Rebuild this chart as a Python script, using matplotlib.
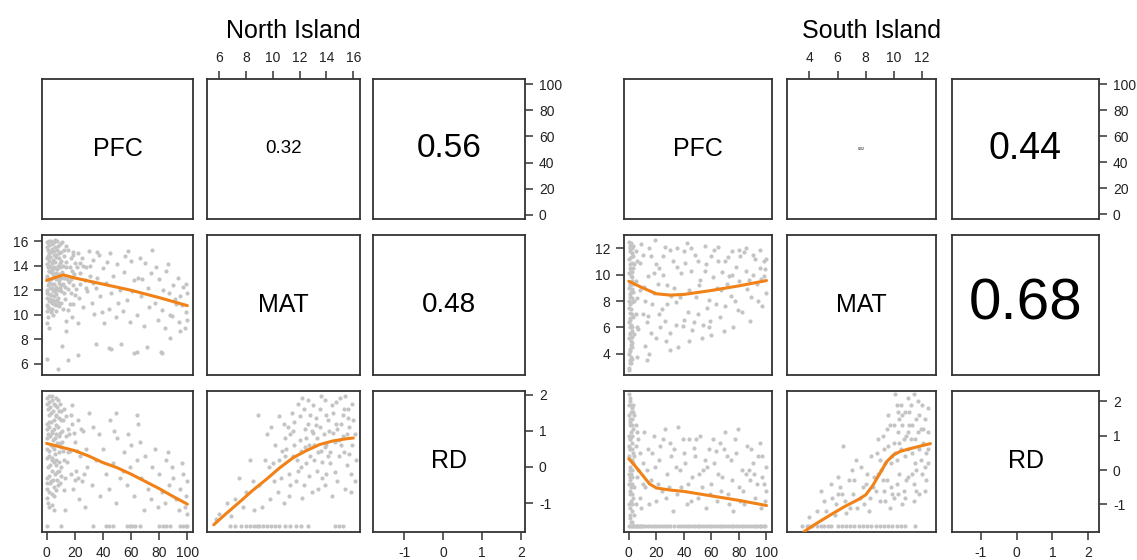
"""
Pairs plots (PFC, MAT, RD) for the North and South Island side by side:
scatter + loess in the lower panels, correlation in the upper ones.
"""

import matplotlib.pyplot as plt
import numpy as np

plt.rcParams['font.family'] = ['Liberation Sans', 'DejaVu Sans']
plt.rcParams['axes.unicode_minus'] = False

W, H = 1137, 560

# ---------------------------------------------------------------- North Island
ni_pfc_mat = [  # (PFC, MAT)
    (0, 15.9), (2, 15.7), (4, 15.8), (1, 15.3), (3, 15.1), (6, 15.5), (8, 15.6), (5, 14.9),
    (0, 14.6), (2, 14.4), (7, 14.7), (9, 15.0), (1, 13.9), (4, 14.2), (6, 13.8), (3, 13.5),
    (0, 13.2), (8, 14.0), (10, 14.4), (2, 12.8), (5, 13.1), (7, 12.9), (1, 12.4), (4, 12.2),
    (9, 12.6), (0, 11.8), (3, 11.6), (6, 11.9), (8, 11.4), (2, 11.1), (5, 10.9), (1, 10.6),
    (7, 10.8), (0, 10.3), (4, 10.5), (11, 13.5), (12, 14.8), (10, 11.9), (13, 12.3), (3, 16.0),
    (6, 16.1), (11, 15.9), (14, 15.6), (9, 13.3), (12, 13.0), (0, 12.0), (1, 14.8), (5, 12.0),
    (6, 14.3), (2, 13.6), (3, 12.9), (4, 13.6), (8, 13.1), (7, 11.7), (9, 11.0), (3, 10.2),
    (1, 9.8), (0, 9.3), (2, 8.9),
    (0.5, 15.5), (1.5, 15.0), (2.5, 14.7), (3.5, 15.4), (4.5, 14.5), (5.5, 15.2), (6.5, 14.9),
    (7.5, 15.3), (8.5, 14.6), (9.5, 14.2), (10.5, 15.1), (11.5, 14.0), (0.5, 14.1), (1.5, 13.6),
    (2.5, 14.0), (3.5, 13.8), (4.5, 13.3), (5.5, 13.9), (6.5, 13.4), (7.5, 13.7), (8.5, 12.8),
    (9.5, 13.9), (10.5, 13.0), (11.5, 12.5), (0.5, 13.0), (1.5, 12.6), (2.5, 12.2), (3.5, 12.5),
    (4.5, 11.9), (5.5, 12.5), (6.5, 12.3), (7.5, 12.1), (8.5, 12.0), (9.5, 12.2), (10.5, 12.4),
    (12.5, 11.8), (0.5, 11.4), (1.5, 11.7), (2.5, 11.3), (3.5, 11.0), (4.5, 11.2), (5.5, 11.5),
    (6.5, 11.1), (7.5, 11.2), (8.5, 10.7), (10.5, 11.0), (11.5, 10.5), (0.5, 10.8), (2.5, 10.5),
    (4.5, 10.0), (6.5, 10.3), (13.5, 14.3), (14.5, 12.9), (16.5, 13.9), (18.5, 14.9), (15.5, 12.1),
    (17.5, 12.9), (19.5, 13.3), (21.5, 13.9), (23.5, 14.2), (20.5, 11.6), (16.5, 10.9),
    (12.5, 15.3), (9.5, 15.8), (5.5, 15.9), (7.5, 16.0), (1.5, 16.0),
    (26, 14.0), (28, 12.2), (31, 14.0), (24, 12.5), (19, 12.4), (33, 12.6), (36, 15.1),
    (15, 15.3), (17, 14.6), (19, 15.1), (14, 13.9), (16, 12.7), (18, 13.6), (20, 14.2), (22, 15.0),
    (24, 13.4), (21, 12.1), (13, 11.3), (15, 10.4), (17, 11.8), (19, 10.9), (23, 11.4), (25, 14.6),
    (27, 12.8), (26, 10.6), (28, 13.9), (30, 15.2), (29, 11.9), (14, 9.5), (18, 9.8), (22, 9.3),
    (31, 13.2), (33, 14.5), (32, 11.0), (35, 12.2), (34, 10.1),
    (0, 6.4), (8, 5.6), (11, 7.5), (15, 6.3), (22, 6.7), (14, 8.7), (35, 7.6), (44, 7.3),
    (46, 7.2), (53, 7.6), (62, 6.9), (64, 7.0), (71, 7.4), (81, 7.0), (82, 6.9), (88, 8.1),
    (95, 8.7),
    (37, 14.9), (40, 13.8), (42, 12.6), (38, 11.5), (45, 15.0), (47, 13.2), (44, 10.5), (50, 14.1),
    (52, 12.0), (49, 9.8), (55, 13.5), (57, 11.2), (54, 10.3), (60, 14.4), (62, 12.8), (59, 9.4),
    (65, 13.0), (67, 11.5), (64, 10.0), (70, 14.2), (72, 12.2), (69, 9.1), (75, 15.3), (74, 13.4),
    (77, 11.0), (80, 12.9), (82, 10.4), (79, 9.6), (85, 13.6), (87, 11.8), (84, 8.9), (90, 12.4),
    (92, 10.9), (89, 9.9), (95, 11.5), (97, 12.3), (94, 9.4), (99, 10.2), (100, 11.8), (98, 8.9),
    (100, 9.6), (96, 10.8), (41, 9.3), (58, 15.2), (66, 14.6), (46, 11.8), (86, 14.1), (93, 13.0),
    (39, 10.2), (36, 13.0), (43, 14.3), (51, 11.0), (56, 14.8), (61, 11.9), (68, 12.9), (73, 10.6),
    (78, 13.9), (83, 12.0), (88, 10.0), (91, 11.3), (99, 12.5),
]
ni_pfc_rd = [  # (PFC, RD)
    (0, 1.9), (2, 1.8), (4, 1.95), (1, 1.6), (3, 1.5), (6, 1.7), (8, 1.85), (5, 1.3),
    (0, 1.2), (2, 1.1), (7, 1.4), (9, 1.55), (1, 0.9), (4, 1.0), (6, 0.8), (3, 0.6),
    (0, 0.5), (8, 1.1), (10, 1.3), (2, 0.3), (5, 0.5), (7, 0.2), (1, 0.0), (4, -0.1),
    (9, 0.4), (0, -0.3), (3, -0.4), (6, -0.2), (8, -0.5), (2, -0.7), (5, -0.8), (1, -1.0),
    (7, 0.9), (11, 0.7), (12, 1.6), (10, 0.0), (13, -0.3), (0, 0.8), (3, 1.25), (6, 0.35),
    (9, -0.1), (11, 1.0), (4, 0.2), (0, -0.6), (2, -1.1), (12, 0.2),
    (0.5, 1.75), (1.5, 1.45), (2.5, 1.65), (3.5, 1.85), (4.5, 1.55), (5.5, 1.75), (6.5, 1.45),
    (7.5, 1.65), (8.5, 1.35), (9.5, 1.75), (10.5, 1.55), (11.5, 1.3), (0.5, 1.05), (1.5, 1.25),
    (2.5, 0.85), (3.5, 0.95), (4.5, 0.75), (5.5, 1.05), (6.5, 1.15), (7.5, 0.65), (8.5, 0.85),
    (9.5, 0.95), (10.5, 0.55), (11.5, 0.45), (0.5, 0.25), (1.5, 0.45), (2.5, 0.05), (3.5, 0.25),
    (4.5, 0.55), (5.5, 0.15), (6.5, 0.05), (7.5, -0.15), (8.5, 0.15), (9.5, 0.65), (10.5, -0.25),
    (0.5, -0.45), (1.5, -0.25), (2.5, -0.45), (3.5, -0.75), (4.5, -0.35), (5.5, -0.55),
    (6.5, -0.65), (7.5, -0.35), (9.5, -0.45), (12.5, -0.65), (14.5, 0.15), (15.5, 1.05),
    (16.5, 0.45), (17.5, 1.45), (19.5, 0.95), (20.5, -0.35), (13.5, 0.85), (21.5, 0.45),
    (22.5, -0.3), (24.5, 1.05), (26.5, -0.2), (0.5, -0.85), (3.5, -1.05), (5.5, -1.2),
    (1.5, 1.95), (6.5, 1.9),
    (14, 1.4), (16, 0.9), (18, 1.2), (15, 0.4), (17, -0.2), (20, 0.7), (22, 1.3), (19, -0.6),
    (24, 0.3), (21, -0.1), (26, 1.0), (28, 0.5), (25, -0.4), (23, -0.9), (30, 1.5), (29, 0.0),
    (27, -1.1), (13, -1.2), (18, 1.7), (33, 1.1), (35, 0.2), (32, -0.5),
    (37, 0.9), (40, 0.5), (42, -0.2), (38, -0.8), (45, 1.3), (47, 0.1), (44, -0.6), (50, 0.8),
    (52, -0.3), (49, -1.0), (55, 0.4), (57, -0.5), (54, -0.1), (60, 0.6), (62, -0.8), (59, 0.0),
    (65, 1.2), (67, -0.3), (64, 0.2), (70, 0.3), (72, -0.6), (69, -1.2), (75, 0.0), (74, -0.9),
    (77, 0.5), (80, -0.2), (82, -0.7), (79, -1.1), (85, 0.2), (87, -0.5), (84, -1.0), (90, -0.3),
    (92, -0.9), (89, 0.0), (95, -0.6), (97, -0.2), (94, -1.2), (99, -0.8), (100, -0.4), (98, -1.1),
    (100, -1.3), (96, 0.1), (58, 0.9), (48, 1.0), (66, 0.7), (86, 0.4), (49, 1.5), (64, 1.45),
]
ni_mat_rd = [  # (MAT, RD)
    (11.0, 0.5), (11.5, 1.0), (12.0, 1.4), (12.5, 0.8), (13.0, 1.7), (13.5, 1.1), (14.0, 0.6),
    (14.5, 1.5), (15.0, 1.9), (15.5, 0.9), (16.0, 1.3), (11.2, -0.2), (11.8, 0.2), (12.3, -0.5),
    (12.8, 0.3), (13.3, -0.1), (13.8, 0.9), (14.3, 0.1), (14.8, -0.4), (15.3, 0.4), (15.8, -0.2),
    (12.2, 1.9), (13.6, 1.95), (14.1, 1.3), (14.6, 0.7), (15.1, 1.2), (15.6, 1.6), (12.6, 1.2),
    (13.1, 0.6), (11.6, 0.6), (12.9, -0.7), (13.9, -0.5), (14.9, 0.3), (15.9, 0.6), (11.4, 1.5),
    (12.1, 0.0), (13.4, 0.4), (14.4, -0.8), (15.4, -0.6), (16.1, 0.9), (10.8, 1.2), (11.9, 1.75),
    (12.4, 0.55), (13.2, 1.35), (14.2, 1.0), (14.7, 1.8), (15.2, 0.85), (13.7, 0.15), (12.7, -0.25),
    (11.3, 0.9), (14.0, -0.2), (15.7, 1.1), (16.2, 0.2), (13.0, 0.95), (12.0, 0.75),
    (11.1, 1.1), (11.7, -0.4), (12.3, 1.6), (12.9, 1.0), (13.5, 1.6), (14.1, 0.3), (14.7, 1.2),
    (15.3, 1.6), (15.9, 1.75), (11.5, 0.3), (12.1, 0.45), (12.7, 0.6), (13.3, 0.8), (13.9, 0.55),
    (14.5, 0.95), (15.1, 0.6), (15.7, 0.35), (11.3, -0.5), (11.9, -0.1), (12.5, 0.1), (13.1, 0.2),
    (13.7, -0.3), (14.3, 0.4), (14.9, 0.75), (15.5, 0.05), (16.1, -0.4), (12.4, 1.05), (13.2, 1.15),
    (14.0, 1.45), (14.8, 1.05), (15.6, 1.35), (11.6, 1.25), (12.8, 1.45), (13.6, 0.45), (14.4, 1.7),
    (15.2, 1.45), (13.9, 1.85), (15.4, 1.95), (12.6, 1.85), (10.5, 0.2), (10.9, 0.8), (9.7, 0.0),
    (10.1, -0.4), (10.7, 0.45), (11.2, -0.8), (12.2, -0.85), (13.4, -0.6), (14.6, -0.15),
    (15.8, -0.7),
    (9.0, -0.5), (9.4, 0.2), (9.8, -0.9), (10.2, 0.6), (10.6, -0.3), (9.6, 0.9), (10.4, -0.7),
    (10.0, 0.1), (10.8, -1.0), (9.2, -1.1), (10.9, 0.3), (9.9, 1.1), (10.5, 1.4),
    (6.0, -1.3), (6.6, -1.0), (7.2, -0.9), (7.5, -0.3), (8.0, -0.7), (8.3, 0.2), (8.6, -1.2),
    (8.9, 1.45), (7.8, -1.1), (8.5, -0.4), (6.9, -1.35), (5.8, -1.45),
]
ni_rd_floor = -1.63
ni_floor_pfc = [0, 10, 33, 42, 44, 47, 57, 59, 61, 63, 66, 80, 83, 85, 88, 95, 97, 99, 100]
ni_floor_mat = [6.8, 7.2, 7.6, 8.0, 8.3, 8.6, 8.8, 9.0, 9.3, 9.6, 9.9, 10.2, 10.5, 10.9,
                11.3, 11.7, 12.1, 12.6, 14.6, 14.9, 15.2]

ni_loess_pfc_mat = ([0, 5, 12, 20, 40, 60, 80, 100],
                    [12.8, 13.0, 13.25, 13.0, 12.5, 12.0, 11.4, 10.75])
ni_loess_pfc_rd = ([0, 10, 20, 30, 40, 50, 60, 70, 80, 90, 100],
                   [0.65, 0.55, 0.45, 0.3, 0.12, -0.02, -0.2, -0.4, -0.6, -0.82, -1.03])
ni_loess_mat_rd = ([5.6, 6.5, 7.5, 8.5, 9.5, 10.5, 11.5, 12.5, 13.5, 14.5, 15.5, 16.0],
                   [-1.6, -1.3, -0.98, -0.65, -0.35, -0.03, 0.25, 0.45, 0.62, 0.72, 0.78, 0.8])

ni_lims = {"PFC": (-3.3, 104), "MAT": (5.1, 16.5), "RD": (-1.8, 2.1)}
ni_ticks = {"PFC": [0, 20, 40, 60, 80, 100], "MAT": [6, 8, 10, 12, 14, 16], "RD": [-1, 0, 1, 2]}
ni_cor = ["0.32", "0.56", "0.48"]      # MAT-PFC, RD-PFC, RD-MAT
ni_cor_size = [13.5, 24, 20]

# ---------------------------------------------------------------- South Island
si_pfc_mat = [  # (PFC, MAT)
    (0, 12.5), (1, 12.0), (2, 11.6), (0, 11.2), (1, 10.8), (3, 10.5), (0, 10.1), (2, 9.8),
    (1, 9.4), (0, 9.0), (3, 8.7), (1, 8.3), (2, 7.9), (0, 7.5), (1, 7.1), (3, 6.8),
    (0, 6.4), (2, 6.0), (1, 5.6), (0, 5.2), (2, 4.8), (1, 4.4), (0, 4.0), (2, 3.6),
    (1, 3.3), (0, 2.9), (3, 12.2), (2, 10.2), (0, 8.0), (3, 9.3), (1, 6.6), (2, 5.3), (3, 11.4),
    (0.5, 12.2), (1.5, 11.3), (2.5, 10.9), (0.5, 10.5), (1.5, 9.9), (2.5, 9.5), (0.5, 9.2),
    (1.5, 8.7), (2.5, 8.2), (0.5, 7.8), (1.5, 7.4), (2.5, 7.0), (0.5, 6.7), (1.5, 6.2), (2.5, 5.7),
    (0.5, 5.5), (1.5, 5.0), (2.5, 4.5), (0.5, 4.2), (1.5, 3.8), (0.5, 3.5), (0.5, 11.8),
    (1.5, 12.4), (2.5, 12.0), (0.5, 8.5), (1.5, 10.3), (2.5, 8.9), (0.5, 6.0), (1.5, 4.7),
    (4, 10.8), (4, 8.0), (4, 5.5), (5, 9.5), (5, 7.0), (6, 11.0), (6, 6.0),
    (5, 11.8), (8, 10.9), (6, 8.2), (10, 7.0), (7, 5.9), (12, 4.6), (9, 12.3), (14, 9.9),
    (16, 11.4), (13, 6.4), (18, 8.6), (20, 5.2), (15, 4.0), (22, 10.5), (24, 7.4), (26, 12.1),
    (23, 6.0), (28, 9.2), (30, 5.6), (32, 11.0), (34, 7.9), (36, 4.5), (38, 10.1), (40, 6.6),
    (42, 12.4), (44, 8.8), (46, 5.8), (48, 11.5), (50, 7.0), (52, 9.6), (54, 6.2), (56, 10.8),
    (58, 8.1), (60, 5.4), (62, 11.9), (64, 9.0), (66, 6.8), (68, 10.2), (70, 7.6), (72, 11.3),
    (74, 8.4), (76, 6.0), (78, 10.6), (80, 9.5), (82, 7.2), (84, 11.7), (86, 8.9), (88, 6.5),
    (90, 10.0), (92, 11.2), (94, 8.0), (96, 9.7), (98, 11.0), (100, 8.6), (99, 10.4), (97, 7.6),
    (11, 9.1), (17, 7.8), (25, 10.0), (33, 9.0), (41, 10.9), (49, 8.3), (57, 7.5), (65, 11.0),
    (73, 9.9), (81, 11.4), (89, 8.3), (93, 9.3), (27, 5.0), (19, 12.6), (35, 12.0), (45, 10.3),
    (55, 12.2), (63, 7.8), (77, 8.0), (85, 10.3), (69, 5.7), (53, 5.2), (39, 6.1), (31, 8.4),
    (21, 9.3), (47, 6.4), (61, 9.8), (75, 11.8),
    (10, 11.5), (15, 12.0), (20, 10.8), (25, 11.4), (30, 11.9), (35, 10.6), (40, 11.8),
    (45, 12.0), (50, 11.0), (55, 10.3), (60, 11.4), (65, 12.1), (70, 11.0), (75, 10.0),
    (80, 11.9), (85, 12.0), (90, 11.5), (95, 11.9), (100, 11.2), (12, 8.0), (22, 7.0), (28, 7.8),
    (37, 8.3), (43, 7.2), (51, 9.2), (59, 6.5), (67, 8.8), (71, 9.3), (79, 7.3), (87, 9.6),
    (95, 10.5), (98, 9.9), (16, 5.6), (26, 6.5), (44, 5.0), (58, 6.0), (34, 6.2), (18, 10.1),
    (8, 8.8), (14, 6.9),
    (0, 2.8), (1.5, 3.3), (6, 3.8), (13.5, 3.5), (30, 4.3),
]
si_pfc_rd = [  # (PFC, RD)
    (0, 2.2), (1, 2.0), (2, 1.8), (0, 1.6), (1, 1.4), (3, 1.2), (0, 1.0), (2, 0.8),
    (1, 0.6), (0, 0.4), (3, 0.2), (1, 0.0), (2, -0.2), (0, -0.4), (1, -0.6), (3, -0.8),
    (0, -1.0), (2, -1.2), (1, -1.4), (0, 1.9), (2, 1.5), (1, 0.9), (3, 0.5), (0, -0.1),
    (2, -0.7), (1, -1.1), (3, 1.7), (0, 0.7), (1, -0.3), (2, 0.3),
    (0.5, 2.1), (1.5, 1.7), (2.5, 1.3), (0.5, 1.3), (1.5, 1.1), (2.5, 1.0), (0.5, 0.9),
    (1.5, 0.3), (2.5, 0.6), (0.5, 0.1), (1.5, -0.1), (2.5, -0.4), (0.5, -0.2), (1.5, -0.5),
    (2.5, -1.0), (0.5, -0.7), (1.5, -0.9), (0.5, -1.3), (2.5, -1.5), (1.5, 1.9), (0.5, 1.5),
    (1.5, -1.5), (0.5, 0.6), (2.5, 0.0), (4, 1.6), (4, -0.5), (5, 0.7), (6, 1.1), (5, -1.0),
    (7, 0.0), (3.5, -1.3), (3, 1.9),
    (5, 1.3), (7, 0.9), (4, 0.4), (6, -0.2), (8, -0.8), (10, 0.2), (9, -1.1), (11, 1.1), (12, -0.5),
    (14, 0.6), (16, -0.3), (18, 1.0), (20, -0.9), (22, 0.3), (24, -0.6), (26, 1.2), (28, -0.1),
    (30, 0.8), (32, -1.2), (34, 0.1), (36, 1.25), (38, -0.5), (40, 0.5), (42, -1.0), (44, 0.9),
    (46, -0.2), (48, 0.4), (50, -0.8), (52, 1.0), (54, 0.0), (56, -1.1), (58, 0.6), (60, -0.4),
    (62, 0.2), (64, -0.9), (66, 0.8), (68, -0.2), (70, 1.1), (72, -0.7), (74, 0.3), (76, -1.2),
    (78, 0.5), (80, -0.5), (82, 0.0), (84, -1.0), (86, 0.7), (88, -0.3), (90, 0.2), (92, -0.8),
    (94, 0.4), (96, -1.1), (98, -0.4), (100, 0.1), (99, -0.9), (15, -1.0), (23, 0.7), (31, 0.4),
    (39, 0.9), (47, 0.65), (55, 0.3), (63, 0.55), (71, 0.4), (79, 1.2), (87, 0.0), (95, 0.8),
    (19, 0.1), (27, -0.8), (35, -0.7), (43, -0.4), (51, -0.1), (59, -0.7), (67, -0.6), (75, -0.3),
    (83, -0.6), (91, -0.1), (97, -0.2),
    (13, 0.0), (17, 0.5), (21, -0.4), (25, 0.9), (29, -0.5), (33, 0.6), (37, 0.0), (41, 0.2),
    (45, -0.9), (49, 0.9), (53, -0.5), (57, 0.1), (61, 0.9), (65, -0.1), (69, 0.6), (73, -1.0),
    (77, 0.9), (81, -0.9), (85, -0.1), (89, 0.6), (93, -0.4), (97, 0.4), (100, -0.6), (10, -0.4),
    (8, 0.5),
]
si_mat_rd = [  # (MAT, RD)
    (5.2, -1.2), (5.6, -0.8), (5.9, -1.0), (6.2, -0.5), (6.5, -0.9), (6.8, -0.3), (7.1, -0.7),
    (7.4, -1.1), (7.7, 0.1), (8.0, -0.4), (8.3, -0.8), (6.0, -0.2), (6.6, -1.25), (7.3, 0.3),
    (7.9, -1.0), (8.4, 0.4), (5.5, -0.4), (4.5, -1.2), (4.0, -1.35), (6.4, 0.7),
    (5.0, -0.9), (5.8, -1.3), (6.3, -0.7), (6.9, -1.1), (7.2, -0.3), (7.6, -0.8), (8.1, -0.1),
    (8.2, -1.2), (7.0, 0.0), (6.0, -0.7), (4.8, -0.6), (7.8, -0.5),
    (8.6, -0.2), (8.8, 0.5), (9.0, -0.9), (9.2, 1.0), (9.4, 0.2), (9.6, 1.6), (9.8, -0.5),
    (10.0, 0.8), (10.2, 1.9), (10.4, -0.1), (10.6, 1.3), (10.8, 0.4), (11.0, 2.1), (11.2, 0.9),
    (11.4, -0.4), (11.6, 1.5), (11.8, 0.6), (12.0, 1.9), (12.2, 0.1), (12.4, 1.1), (9.1, 0.0),
    (9.5, -0.3), (9.9, 0.4), (10.3, 1.1), (10.7, -0.6), (11.1, 1.7), (11.5, 0.2), (11.9, 1.2),
    (12.3, -0.3), (10.1, 2.2), (10.5, 0.6), (10.9, 1.0), (11.3, 1.3), (11.7, 2.0), (12.1, 0.8),
    (9.7, -1.1), (10.6, -1.0), (11.4, -0.9), (12.4, 0.6), (9.3, -0.6), (10.8, 1.7), (11.0, -0.2),
    (9.6, 0.7), (10.2, -0.4), (11.6, 0.0), (12.2, 1.5), (8.9, 0.9), (10.4, 1.5), (11.8, -0.7),
    (10.0, -0.8),
    (8.7, -0.6), (9.0, 0.3), (9.3, 0.6), (9.5, 1.2), (9.8, 0.2), (10.0, 1.3), (10.2, 0.3),
    (10.3, -0.7), (10.5, 1.9), (10.7, 0.9), (10.9, -0.3), (11.0, 0.6), (11.2, 1.9), (11.3, -0.1),
    (11.5, 0.9), (11.6, -0.6), (11.8, 1.6), (11.9, 0.3), (12.0, -0.1), (12.1, 1.2), (12.3, 0.5),
    (12.4, 1.8), (10.6, 1.6), (10.4, 0.8), (11.1, 1.3), (11.4, 2.2), (11.7, 1.1), (9.9, -0.7),
    (10.8, -0.8), (9.4, -0.9), (12.2, -0.6), (11.3, 0.5), (10.1, 0.5), (9.2, -0.3), (8.9, -0.1),
    (8.5, -0.5), (12.4, 0.2), (11.0, 1.1), (10.3, 1.7), (9.7, 1.3),
]
si_rd_floor = -1.63
si_floor_pfc = [0, 1, 2, 3, 4, 5, 6, 7, 8, 9, 10, 12, 14, 16, 18, 20, 22, 24, 26, 28, 30, 33,
                36, 38, 40, 42, 44, 46, 48, 50, 52, 54, 56, 58, 60, 62, 64, 66, 68, 70, 72,
                74, 76, 78, 80, 82, 84, 86, 88, 90, 92, 93, 95, 96, 98, 99]
si_floor_mat = [3.5, 3.8, 4.0, 4.2, 4.5, 4.8, 5.0, 5.3, 5.5, 6.0, 6.3, 6.6, 6.9, 7.2, 7.5,
                7.8, 8.1, 8.4, 8.7, 9.0, 9.3, 9.6, 9.9, 10.2, 10.5, 10.8, 11.5]

si_loess_pfc_mat = ([0, 10, 20, 30, 40, 60, 80, 100],
                    [9.5, 9.0, 8.55, 8.45, 8.5, 8.8, 9.15, 9.55])
si_loess_pfc_rd = ([0, 5, 10, 15, 20, 30, 40, 60, 80, 100],
                   [0.33, 0.1, -0.15, -0.4, -0.52, -0.58, -0.62, -0.75, -0.88, -1.03])
si_loess_mat_rd = ([3.6, 4.5, 5.5, 6.5, 7.5, 8.0, 8.5, 9.0, 9.5, 10.0, 10.5, 11.5, 12.6],
                   [-1.79, -1.55, -1.3, -1.06, -0.85, -0.72, -0.45, -0.1, 0.25, 0.45, 0.55,
                    0.66, 0.77])

si_lims = {"PFC": (-3.5, 104), "MAT": (2.4, 13.0), "RD": (-1.8, 2.3)}
si_ticks = {"PFC": [0, 20, 40, 60, 80, 100], "MAT": [4, 6, 8, 10, 12], "RD": [-1, 0, 1, 2]}
si_cor = ["0.02", "0.44", "0.68"]
si_cor_size = [2.6, 27, 42]

VARS = ["PFC", "MAT", "RD"]
ROWS_PX = [(79, 219), (235, 375), (391, 532)]
NI_COLS_PX = [(42, 193), (207, 360), (373, 525)]
SI_COLS_PX = [(624, 772), (787, 936), (952, 1099)]

POINT = "#c4c4c4"
LOESS = "#f08218"
FRAME = "#333333"


def make_ax(fig, xpx, ypx):
    x0, x1 = xpx
    y0, y1 = ypx
    ax = fig.add_axes([x0 / W, 1 - y1 / H, (x1 - x0) / W, (y1 - y0) / H])
    for s in ax.spines.values():
        s.set_linewidth(1.3)
        s.set_color(FRAME)
    ax.set_xticks([])
    ax.set_yticks([])
    ax.tick_params(length=6, width=1.1, color=FRAME, labelsize=10,
                   labelcolor="#222222", pad=4)
    return ax


def draw_island(fig, cols_px, title, lims, ticks, pts, floors, rd_floor, loess,
                cor, cor_size):
    axes = {}
    for i, ypx in enumerate(ROWS_PX):
        for j, xpx in enumerate(cols_px):
            ax = make_ax(fig, xpx, ypx)
            ax.set_xlim(lims[VARS[j]])
            ax.set_ylim(lims[VARS[i]])
            axes[i, j] = ax

    # diagonal labels
    for k, v in enumerate(VARS):
        axes[k, k].text(0.5, 0.5, v, transform=axes[k, k].transAxes,
                        ha="center", va="center", fontsize=18)

    # lower panels: scatter + loess
    pairs = [(1, 0), (2, 0), (2, 1)]
    for (i, j), p, fl, lo in zip(pairs, pts, floors, loess):
        ax = axes[i, j]
        xy = np.array(p)
        ax.scatter(xy[:, 0], xy[:, 1], s=9, color=POINT, linewidths=0, zorder=2)
        if fl is not None:
            ax.scatter(fl, [rd_floor] * len(fl), s=9, color=POINT, linewidths=0, zorder=2)
        ax.plot(lo[0], lo[1], color=LOESS, linewidth=2.2, zorder=3,
                solid_capstyle="round")

    # upper panels: correlations
    for (i, j), txt, fs in zip([(0, 1), (0, 2), (1, 2)], cor, cor_size):
        axes[i, j].text(0.5, 0.5, txt, transform=axes[i, j].transAxes,
                        ha="center", va="center", fontsize=fs)

    # outer axes, R pairs() style
    axes[1, 0].set_yticks(ticks["MAT"])
    axes[2, 0].set_xticks(ticks["PFC"])
    axes[0, 1].xaxis.tick_top()
    axes[0, 1].set_xticks(ticks["MAT"])
    axes[0, 2].yaxis.tick_right()
    axes[0, 2].set_yticks(ticks["PFC"])
    axes[2, 2].yaxis.tick_right()
    axes[2, 2].set_yticks(ticks["RD"])
    axes[2, 2].set_xticks(ticks["RD"])

    cx = (cols_px[1][0] + cols_px[1][1]) / 2 + 10
    fig.text(cx / W, 1 - 38 / H, title, ha="center", va="baseline", fontsize=18)


fig = plt.figure(figsize=(W / 100, H / 100), dpi=100)

draw_island(fig, NI_COLS_PX, "North Island", ni_lims, ni_ticks,
            [ni_pfc_mat, ni_pfc_rd, ni_mat_rd], [None, ni_floor_pfc, ni_floor_mat],
            ni_rd_floor, [ni_loess_pfc_mat, ni_loess_pfc_rd, ni_loess_mat_rd],
            ni_cor, ni_cor_size)
draw_island(fig, SI_COLS_PX, "South Island", si_lims, si_ticks,
            [si_pfc_mat, si_pfc_rd, si_mat_rd], [None, si_floor_pfc, si_floor_mat],
            si_rd_floor, [si_loess_pfc_mat, si_loess_pfc_rd, si_loess_mat_rd],
            si_cor, si_cor_size)

fig.savefig("out.png", dpi=100)
